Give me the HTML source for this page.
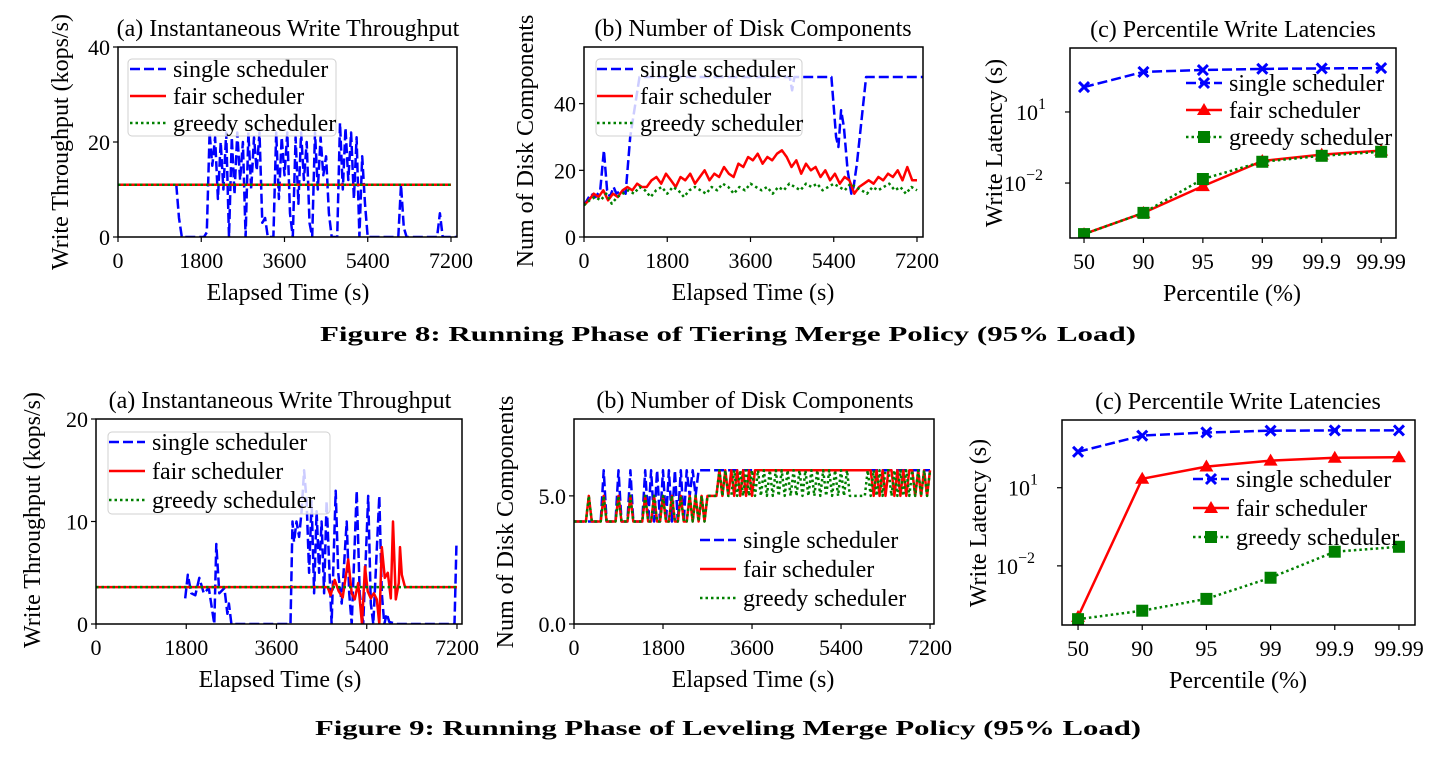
<!DOCTYPE html>
<html><head><meta charset="utf-8"><style>
html,body{margin:0;padding:0;background:#fff;}
svg{display:block;font-family:"Liberation Serif",serif;}
</style></head><body>
<svg id="fig" width="1439" height="757" viewBox="0 0 1439 757" xmlns="http://www.w3.org/2000/svg">
<text x="728" y="341" font-size="21" font-weight="bold" text-anchor="middle" textLength="816" lengthAdjust="spacingAndGlyphs">Figure 8: Running Phase of Tiering Merge Policy (95% Load)</text>
<text x="728" y="735" font-size="21" font-weight="bold" text-anchor="middle" textLength="826" lengthAdjust="spacingAndGlyphs">Figure 9: Running Phase of Leveling Merge Policy (95% Load)</text>
</svg>
<script>
// ---------- data ----------
const timeTicks=[0,1800,3600,5400,7200];
const pctCategories=["50","90","95","99","99.9","99.99"];
const seriesNames=["single scheduler","fair scheduler","greedy scheduler"];
// Fig 8a (kops/s) single scheduler: start 1260s, step 60s
const f8aSingleStart=1260, f8aSingleStep=60;
const f8aSingle=[11,4,0,0,0,0,0,0,0,0,0,1,22,15,21,8,20,10,22,0,21,9,22,12,20,0,22,10,21,14,22,3,4,0,0,0,22,8,21,13,22,5,0,21,7,22,12,20,3,0,22,10,21,13,17,5,0,0,0,24,10,23,12,22,8,21,0,17,7,0,0,0,0,0,0,0,0,0,0,0,0,11,2,0,0,0,0,0,0,0,0,0,0,0,0,5,0,0,0,0,0,0];
const f8aFairT=[0,7200], f8aFair=[11,11];
const f8aGreedyT=[0,7200], f8aGreedy=[11,11];
const f8aYTicks=[0,20,40];
// Fig 8b
const f8bSingleT=[0,150,250,350,430,500,560,640,700,800,900,1000,1200,4450,4500,4550,5350,5450,5500,5560,5620,5700,5780,5830,5900,6100,7330];
const f8bSingle=[9.5,13,12,14,26,14,12,15,13,14,13,30,48,48,44,48,48,30,27,38,33,20,13,15,22,48,48];
const f8bFair=[9.5,11,13,12,14,11,13,12,14,15,14,16,15,15,17,18,16,19,17,15,18,17,19,16,18,20,17,19,18,21,19,18,22,21,24,23,25,22,24,23,25,26,24,21,23,19,22,20,21,18,20,17,19,16,18,17,13,15,16,17,16,18,17,19,18,20,17,21,17,17];
const f8bGreedy=[9.5,11,12,11,13,10,12,13,14,13,15,14,12,14,15,13,15,14,12,14,15,14,13,15,14,16,15,13,15,14,16,15,14,15,13,15,14,16,15,14,16,15,16,14,15,16,15,14,16,15,14,13,15,14,15,16,14,15,13,15,14];
const f8bYTicks=[0,20,40];
// Fig 8c (seconds, log axis)
const f8cSingle=[112,490,590,660,690,710];
const f8cFair=[0.00007,0.00055,0.0074,0.085,0.158,0.234];
const f8cGreedy=[0.00007,0.00055,0.0148,0.079,0.141,0.209];
// Fig 9a
const f9aSingleT=[1780,1830,1900,1980,2060,2150,2250,2360,2400,2460,2560,2620,2650,2700,3880,3920,3950,4000,4050,4100,4150,4200,4250,4300,4350,4400,4450,4500,4550,4600,4650,4700,4780,4830,4900,5000,5050,5100,5200,5260,5330,5430,5480,5530,5650,5700,5750,5800,5850,6000,7150,7190];
const f9aSingle=[2.5,4.8,3,2.8,4.5,3,3.5,0,7.8,3,3.5,1,2,0,0,10,8,10,8.5,11,15,12,5,12,3,11,5,10,3,12,6,0,13,5,2,10,3,0,13,3,0,12.5,2,0,12.5,3,0,1,0.2,0,0,8];
const f9aFairT=[0,4620,4680,4760,4840,4920,5030,5100,5160,5230,5305,5365,5420,5480,5540,5600,5650,5700,5760,5820,5880,5924,5980,6040,6063,6100,6163,7200];
const f9aFair=[3.6,3.6,2.8,4.3,3.2,2.6,6.3,3.0,2.4,4.0,0,5.6,3.2,2.5,3,2.4,0,7.5,4.5,5,2.5,10,2.4,4,7.5,4.8,3.6,3.6];
const f9aGreedyT=[0,7200], f9aGreedy=[3.6,3.6];
const f9aYTicks=[0,10,20];
// Fig 9b (step 60s)
const f9bSingle=[4,4,4,4,4,4,4,4,4,4,6,4,4,4,4,6,4,4,4,6,4,4,4,4,6,4,6,4,6,4,6,4,6,4,6,4,6,4,6,5,6,5,6,6,6,6,6,6,6,6,6,6,6,6,6,6,6,6,6,6,6,6,6,6,6,6,6,6,6,6,6,6,6,6,6,6,6,6,6,6,6,6,6,6,6,6,6,6,6,6,6,6,6,6,6,6,6,6,6,6,6,6,6,6,6,6,6,6,6,6,6,6,6,6,6,6,6,6,6,6,6];
const f9bFair=[4,4,4,4,4,5,4,4,4,4,5,4,4,4,4,5,4,4,4,5,4,4,4,4,5,4,4,5,4,4,5,4,4,5,4,4,5,4,4,5,4,5,4,5,4,5,5,5,5,6,5,6,5,6,5,6,5,6,5,6,5,6,6,6,6,6,6,6,6,6,6,6,6,6,6,6,6,6,6,6,6,6,6,6,6,6,6,6,6,6,6,6,6,6,6,6,6,6,6,6,6,5,6,5,6,5,6,6,5,6,5,6,5,6,6,5,6,5,6,5,6];
const f9bGreedy=[4,4,4,4,4,5,4,4,4,4,5,4,4,4,4,5,4,4,4,5,4,4,4,4,5,4,4,5,4,4,5,4,4,5,4,4,5,4,4,5,4,5,4,5,4,5,5,5,5,6,5,6,5,5,6,5,6,5,6,5,6,5,6,5,6,5,6,5,6,5,6,5,6,5,6,5,6,5,6,5,6,5,6,5,6,5,6,5,6,5,6,5,6,5,5,5,5,5,5,6,5,6,5,6,5,6,6,5,6,5,6,5,6,5,6,5,6,5,6,5,6];
const f9bYTicks=[0,5];
// Fig 9c
const f9cSingle=[240,1000,1320,1550,1585,1585];
const f9cFair=[0.00011,22,65,110,141,148];
const f9cGreedy=[0.00009,0.00019,0.00054,0.0035,0.035,0.054];

// ---------- drawing ----------
const NS="http://www.w3.org/2000/svg";
const svg=document.getElementById('fig');
const COLORS=["#0000ff","#ff0000","#008000"];
const DASH=["10 4","","2.5 3"];
const FS=24, TFS=22;
let clipN=0;
function el(tag,attrs,parent){const e=document.createElementNS(NS,tag);for(const k in attrs)e.setAttribute(k,attrs[k]);(parent||svg).appendChild(e);return e;}

function panel(p){
  const g=el('g',{});
  
  
  const sx=v=>p.L+(v-p.xmin)/(p.xmax-p.xmin)*(p.R-p.L);
  const sy=v=>{const t=p.log?Math.log10(v):v;return p.B-(t-p.ymin)/(p.ymax-p.ymin)*(p.B-p.T);};
  p.sx=sx;p.sy=sy;p.g=g;
  const id='clip'+(clipN++);
  const cp=el('clipPath',{id:id},g);el('rect',{x:p.L,y:p.T,width:p.R-p.L,height:p.B-p.T},cp);
  p.plot=el('g',{'clip-path':'url(#'+id+')'},g);
  
  
  const t=el('text',{x:p.tx,y:p.T-11,'font-size':FS,'text-anchor':'middle'},g);t.textContent=p.title;
  
  
  const xl=el('text',{x:p.xlx,y:p.B+63,'font-size':FS,'text-anchor':'middle'},g);xl.textContent=p.xlabel;
  
  
  const yl=el('text',{x:0,y:0,'font-size':FS,'text-anchor':'middle',transform:`translate(${p.ylx},${p.yly}) rotate(-90)`},g);yl.textContent=p.ylabel;
  
  
  p.xticks.forEach((v,i)=>{const x=sx(v);el('line',{x1:x,x2:x,y1:p.B,y2:p.B+5,stroke:'#000','stroke-width':1.2},g);
    const tl=el('text',{x:x,y:p.B+31,'font-size':TFS,'text-anchor':'middle'},g);tl.textContent=p.xtickLabels?p.xtickLabels[i]:String(v);
    
    });
  p.yticks.forEach(v=>{const y=sy(v);el('line',{x1:p.L-5,x2:p.L,y1:y,y2:y,stroke:'#000','stroke-width':1.2},g);
    const tl=el('text',{x:p.L-8,y:y+8,'font-size':TFS,'text-anchor':'end'},g);
    if(p.log){const e=Math.round(Math.log10(v));tl.textContent='10';const ts=el('tspan',{dy:-11,'font-size':16},tl);ts.textContent=e<0?'\u2212'+(-e):String(e);
      
      
      tl.setAttribute('text-anchor','start');tl.setAttribute('x',p.L-(e<0?66:54));}
    else tl.textContent=p.yfmt?v.toFixed(1):String(v);
    
    });
  return p;
}
function frame(p){const r=el('rect',{x:p.L,y:p.T,width:p.R-p.L,height:p.B-p.T,fill:'none',stroke:'#000','stroke-width':1.5},p.g);
  
  }
function line(p,xs,ys,k,name){
  const d=xs.map((x,i)=>(i?'L':'M')+p.sx(x).toFixed(1)+' '+p.sy(ys[i]).toFixed(1)).join(' ');
  const path=el('path',{d:d,fill:'none',stroke:COLORS[k],'stroke-width':2.5,'stroke-dasharray':DASH[k],'stroke-linejoin':'round'},p.plot);
  
  
}
function marker(parent,k,x,y,name){
  let m;
  if(k===0){m=el('path',{d:`M${x-5} ${y-5}L${x+5} ${y+5}M${x-5} ${y+5}L${x+5} ${y-5}`,stroke:COLORS[0],'stroke-width':3,fill:'none'},parent);}
  else if(k===1){m=el('path',{d:`M${x} ${y-7}L${x+7} ${y+5}L${x-7} ${y+5}Z`,fill:COLORS[1]},parent);}
  else {m=el('rect',{x:x-6,y:y-6,width:12,height:12,fill:COLORS[2]},parent);}
  
  
}
function idxTimes(n,start,step){return Array.from({length:n},(_,i)=>start+i*step);}
function legend(p,lx,ly,box,markers){
  const g=el('g',{},p.g);
  
  
  if(box){const r=el('rect',{x:box[0],y:box[1],width:box[2],height:box[3],rx:4,fill:'#fff','fill-opacity':0.8,stroke:'#d0d0d0','stroke-width':1},g);
    
    }
  seriesNames.forEach((s,k)=>{const y=ly+k*p.lgap;
    const ln=el('line',{x1:lx,x2:lx+36,y1:y,y2:y,stroke:COLORS[k],'stroke-width':2.5,'stroke-dasharray':DASH[k]},g);
    
    
    if(markers)marker(g,k,lx+18,y,'legend-marker');
    const t=el('text',{x:lx+43,y:y+8,'font-size':FS},g);t.textContent=s;
    
    });
}
function pctPanel(p,data){
  const idx=pctCategories.map((_,i)=>i);
  data.forEach((arr,k)=>{line(p,idx,arr,k,'series-'+seriesNames[k].split(' ')[0]);
    arr.forEach((v,i)=>marker(p.plot,k,p.sx(i),p.sy(v),'point-'+seriesNames[k].split(' ')[0]+'-'+pctCategories[i]));});
}

// Fig 8a
let p=panel({name:'fig8a-throughput',L:118,R:457,T:47,B:237,xmin:0,xmax:7330,ymin:0,ymax:40,xticks:timeTicks,yticks:f8aYTicks,title:'(a) Instantaneous Write Throughput',tx:288,xlx:288,xlabel:'Elapsed Time (s)',ylabel:'Write Throughput (kops/s)',ylx:68,yly:142,lgap:27});
line(p,idxTimes(f8aSingle.length,f8aSingleStart,f8aSingleStep),f8aSingle,0,'series-single');
line(p,f8aFairT,f8aFair,1,'series-fair');
line(p,f8aGreedyT,f8aGreedy,2,'series-greedy');
frame(p);legend(p,130,69,[128,59,208,77],false);
// Fig 8b
p=panel({name:'fig8b-components',L:584,R:923,T:47,B:237,xmin:0,xmax:7330,ymin:0,ymax:57,xticks:timeTicks,yticks:f8bYTicks,title:'(b) Number of Disk Components',tx:753,xlx:753,xlabel:'Elapsed Time (s)',ylabel:'Num of Disk Components',ylx:533,yly:141,lgap:27});
line(p,f8bSingleT,f8bSingle,0,'series-single');
line(p,idxTimes(f8bFair.length,0,7200/(f8bFair.length-1)),f8bFair,1,'series-fair');
line(p,idxTimes(f8bGreedy.length,0,7200/(f8bGreedy.length-1)),f8bGreedy,2,'series-greedy');
frame(p);legend(p,597,69,[596,59,206,77],false);
// Fig 8c
p=panel({name:'fig8c-latency',L:1070,R:1396,T:48,B:238,xmin:-0.236,xmax:5.25,ymin:-4.32,ymax:3.7,log:true,xticks:[0,1,2,3,4,5],xtickLabels:pctCategories,yticks:[10,0.01],title:'(c) Percentile Write Latencies',tx:1233,xlx:1232,xlabel:'Percentile (%)',ylabel:'Write Latency (s)',ylx:1002,yly:143,lgap:27});
pctPanel(p,[f8cSingle,f8cFair,f8cGreedy]);
frame(p);legend(p,1186,83,null,true);
// Fig 9a
p=panel({name:'fig9a-throughput',L:96,R:462,T:419,B:624,xmin:0,xmax:7300,ymin:0,ymax:20,xticks:timeTicks,yticks:f9aYTicks,title:'(a) Instantaneous Write Throughput',tx:280,xlx:280,xlabel:'Elapsed Time (s)',ylabel:'Write Throughput (kops/s)',ylx:40,yly:520,lgap:29});
line(p,f9aSingleT,f9aSingle,0,'series-single');
line(p,f9aFairT,f9aFair,1,'series-fair');
line(p,f9aGreedyT,f9aGreedy,2,'series-greedy');
frame(p);legend(p,109,442,[108,432,222,82],false);
// Fig 9b
p=panel({name:'fig9b-components',L:574,R:934,T:419,B:624,xmin:0,xmax:7280,ymin:0,ymax:8,xticks:timeTicks,yticks:f9bYTicks,yfmt:true,title:'(b) Number of Disk Components',tx:755,xlx:753,xlabel:'Elapsed Time (s)',ylabel:'Num of Disk Components',ylx:513,yly:522,lgap:29});
line(p,idxTimes(f9bSingle.length,0,60),f9bSingle,0,'series-single');
line(p,idxTimes(f9bFair.length,0,60),f9bFair,1,'series-fair');
line(p,idxTimes(f9bGreedy.length,0,60),f9bGreedy,2,'series-greedy');
frame(p);legend(p,700,540,null,false);
// Fig 9c
p=panel({name:'fig9c-latency',L:1062,R:1415,T:420,B:625,xmin:-0.25,xmax:5.25,ymin:-4.27,ymax:3.6,log:true,xticks:[0,1,2,3,4,5],xtickLabels:pctCategories,yticks:[10,0.01],title:'(c) Percentile Write Latencies',tx:1238,xlx:1238,xlabel:'Percentile (%)',ylabel:'Write Latency (s)',ylx:986,yly:523,lgap:29});
pctPanel(p,[f9cSingle,f9cFair,f9cGreedy]);
frame(p);legend(p,1193,479,null,true);
</script>
</body></html>
